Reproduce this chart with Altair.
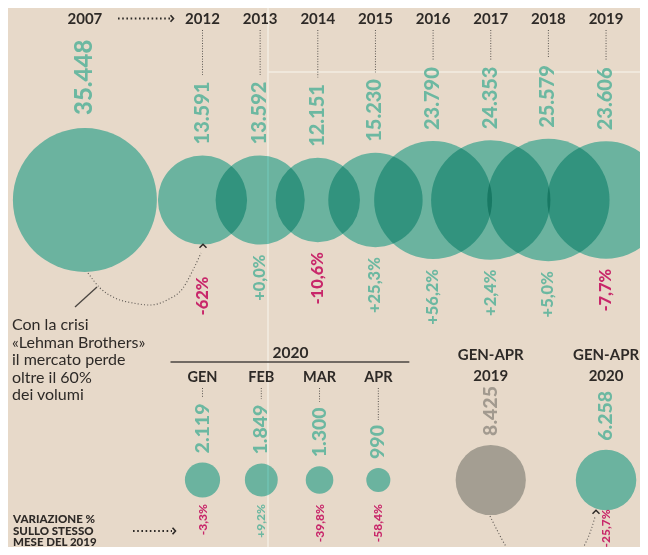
import math
import altair as alt
import pandas as pd

# ---------------- data ----------------
top_years = ["2007", "2012", "2013", "2014", "2015", "2016", "2017", "2018", "2019"]
top_values = [35448, 13591, 13592, 12151, 15230, 23790, 24353, 25579, 23606]
top_changes = ["", "-62%", "+0,0%", "-10,6%", "+25,3%", "+56,2%", "+2,4%", "+5,0%", "-7,7%"]

month_names = ["GEN", "FEB", "MAR", "APR"]
month_values = [2119, 1849, 1300, 990]
month_changes = ["-3,3%", "+9,2%", "-39,8%", "-58,4%"]

cum_names = ["GEN-APR\n2019", "GEN-APR\n2020"]
cum_values = [8425, 6258]
cum_changes = ["", "-25,7%"]

note_text = "Con la crisi\n«Lehman Brothers»\nil mercato perde\noltre il 60%\ndei volumi"
var_text = "VARIAZIONE %\nSULLO STESSO\nMESE DEL 2019"

# ---------------- layout ----------------
W, H = 632, 539
ORIGIN, STEP = 79.2, 57.65
R_MAX, V_MAX = 72.0, max(top_values)
TOP_Y, BOT_Y = 192, 472

BG = "#e7d9c9"
TEAL_FILL = "#76d2ca"
GRAY_FILL = "#b5bab9"
TEAL_TXT = "#6cb8a1"
RED_TXT = "#c8276a"
GRAY_TXT = "#a29a8f"
DARK = "#2e2a27"
DOT = "#5a5550"
FONT = "Lato"

top_slots = [-0.04, 2, 3, 4, 5, 6, 7, 8, 9]
month_slots = [2, 3.02, 4.03, 5.05]
cum_slots = [7, 9]


def xpos(slot):
    return ORIGIN + STEP * slot


def radius(v):
    return R_MAX * math.sqrt(v / V_MAX)


def it_num(v):
    return f"{v:,}".replace(",", ".")


def text_len(s, fs):
    d = sum(c.isdigit() for c in s)
    return fs * (0.58 * d + 0.27 * (len(s) - d))


def tone(s):
    return RED_TXT if s.startswith("-") else TEAL_TXT


xs = alt.Scale(domain=[0, W], range=[0, W])
ys = alt.Scale(domain=[0, H], range=[0, H])


def X(f="x"):
    return alt.X(f"{f}:Q", scale=xs, axis=None)


def Y(f="y"):
    return alt.Y(f"{f}:Q", scale=ys, axis=None)


# bubbles
bub_rows = []
for s, v in zip(top_slots, top_values):
    bub_rows.append({"x": xpos(s), "y": TOP_Y, "v": v, "fill": TEAL_FILL})
for s, v in zip(month_slots, month_values):
    bub_rows.append({"x": xpos(s), "y": BOT_Y, "v": v, "fill": TEAL_FILL})
for i, (s, v) in enumerate(zip(cum_slots, cum_values)):
    bub_rows.append({"x": xpos(s), "y": BOT_Y, "v": v, "fill": GRAY_FILL if i == 0 else TEAL_FILL})
bub = pd.DataFrame(bub_rows)

# value labels + dotted guides
val_rows, guide_rows = [], []
for i, (s, v) in enumerate(zip(top_slots, top_values)):
    fs = 24 if i == 0 else 20
    gap = 13 if i == 0 else 11
    lab = it_num(v)
    yb = TOP_Y - radius(v) - gap
    val_rows.append({"x": xpos(s), "y": yb, "t": lab, "fs": fs, "c": TEAL_TXT})
    if i > 0:
        guide_rows.append({"x": xpos(s), "y": 22, "y2": yb - text_len(lab, fs) - 6})
BFS = 19.5
for s, v in zip(month_slots, month_values):
    lab = it_num(v)
    yb = BOT_Y - radius(v) - 9
    val_rows.append({"x": xpos(s), "y": yb, "t": lab, "fs": BFS, "c": TEAL_TXT})
    guide_rows.append({"x": xpos(s), "y": 380, "y2": yb - text_len(lab, BFS) - 5})
for i, (s, v) in enumerate(zip(cum_slots, cum_values)):
    yb = BOT_Y - radius(v) - 9
    val_rows.append({"x": xpos(s), "y": yb, "t": it_num(v), "fs": BFS,
                     "c": GRAY_TXT if i == 0 else TEAL_TXT})
vals = pd.DataFrame(val_rows)
guides = pd.DataFrame(guide_rows)

# percent labels
pct_rows = []
for i, (s, v, p) in enumerate(zip(top_slots, top_values, top_changes)):
    if p:
        extra = 22 if i == 1 else 0
        pct_rows.append({"x": xpos(s), "y": TOP_Y + radius(v) + 10 + extra, "t": p, "c": tone(p), "fs": 16.5})
for s, p in zip(month_slots, month_changes):
    pct_rows.append({"x": xpos(s), "y": 496, "t": p, "c": tone(p), "fs": 12})
for s, v, p in zip(cum_slots, cum_values, cum_changes):
    if p:
        pct_rows.append({"x": xpos(s), "y": BOT_Y + radius(v) - 1, "t": p, "c": tone(p), "fs": 12})
pcts = pd.DataFrame(pct_rows)

# headers
years_df = pd.DataFrame({"x": [xpos(s) for s in top_slots], "y": 16, "t": top_years})
months_df = pd.DataFrame({"x": [xpos(s) for s in month_slots], "y": 374, "t": month_names})
cum_df = pd.DataFrame({"x": [xpos(s) for s in cum_slots], "y": 352, "t": cum_names})
yr2020 = pd.DataFrame({"x": [(xpos(month_slots[0]) + xpos(month_slots[-1])) / 2], "y": [350], "t": ["2020"]})
underline = pd.DataFrame({"x": [xpos(month_slots[0]) - 32], "x2": [xpos(month_slots[-1]) + 31], "y": [354]})

notes = pd.DataFrame({"x": [4, 5], "y": [322, 515], "t": [note_text, var_text]})

# decorations (annotation geometry)
fold_v = pd.DataFrame({"x": [260], "y": [0], "y2": [H]})
fold_h = pd.DataFrame({"x": [260], "x2": [W], "y": [64]})
arrows_h = pd.DataFrame({"x": [110, 125], "x2": [162, 164], "y": [10.5, 523]})
heads_r = pd.DataFrame({"x": [164, 166], "y": [10.5, 523]})
heads_u = pd.DataFrame({"x": [195, 588], "y": [238, 504]})
arc_top = pd.DataFrame({"x": [80, 92, 107, 125, 142, 159, 175, 185, 193],
                        "y": [265, 280, 290, 295, 297, 292, 280, 262, 245],
                        "o": list(range(9))})
arc_bot = pd.DataFrame({"x": [482, 489, 499, 522, 540, 558, 575, 583, 587],
                        "y": [508, 522, 540, 560, 565, 560, 540, 522, 509],
                        "o": list(range(9))})
leader = pd.DataFrame({"x": [67, 89], "y": [299, 279], "o": [0, 1]})

# ---------------- layers ----------------
fold_layer = alt.Chart(fold_v).mark_rule(color="#f3ece2", strokeWidth=1.5).encode(x=X(), y=Y(), y2="y2:Q")
fold_layer2 = alt.Chart(fold_h).mark_rule(color="#f3ece2", strokeWidth=1.5).encode(x=X(), x2="x2:Q", y=Y())

circles = alt.Chart(bub).mark_circle(opacity=1, blend="multiply").encode(
    x=X(), y=Y(),
    size=alt.Size("v:Q", scale=alt.Scale(type="linear", domain=[0, V_MAX], range=[0, (2 * R_MAX) ** 2], zero=True), legend=None),
    color=alt.Color("fill:N", scale=None),
)

guide_layer = alt.Chart(guides).mark_rule(color=DOT, strokeWidth=1, strokeDash=[1, 1.6]).encode(
    x=X(), y=Y(), y2="y2:Q")

val_layer = alt.Chart(vals).mark_text(angle=270, align="left", baseline="middle", font=FONT, fontWeight=900).encode(
    x=X(), y=Y(), text="t:N", size=alt.Size("fs:Q", scale=None), color=alt.Color("c:N", scale=None))

pct_layer = alt.Chart(pcts).mark_text(angle=270, align="right", baseline="middle", font=FONT, fontWeight=900).encode(
    x=X(), y=Y(), text="t:N", size=alt.Size("fs:Q", scale=None), color=alt.Color("c:N", scale=None))

year_layer = alt.Chart(years_df).mark_text(font=FONT, fontWeight="bold", fontSize=15, color=DARK, baseline="alphabetic").encode(
    x=X(), y=Y(), text="t:N")
month_layer = alt.Chart(months_df).mark_text(font=FONT, fontWeight="bold", fontSize=14.5, color=DARK, baseline="alphabetic").encode(
    x=X(), y=Y(), text="t:N")
cum_layer = alt.Chart(cum_df).mark_text(font=FONT, fontWeight="bold", fontSize=15, color=DARK, baseline="alphabetic",
                                        lineBreak="\n", lineHeight=21).encode(x=X(), y=Y(), text="t:N")
yr_layer = alt.Chart(yr2020).mark_text(font=FONT, fontWeight="bold", fontSize=15.5, color=DARK, baseline="alphabetic").encode(
    x=X(), y=Y(), text="t:N")
under_layer = alt.Chart(underline).mark_rule(color="#4a4540", strokeWidth=1.5).encode(x=X(), x2="x2:Q", y=Y())

note_layer = alt.Chart(notes.iloc[[0]]).mark_text(font=FONT, fontSize=16, color=DARK, align="left", baseline="alphabetic",
                                                  lineBreak="\n", lineHeight=17.5).encode(x=X(), y=Y(), text="t:N")
var_layer = alt.Chart(notes.iloc[[1]]).mark_text(font=FONT, fontSize=11.5, fontWeight=900, color=DARK, align="left",
                                                 baseline="alphabetic", lineBreak="\n", lineHeight=11.7).encode(x=X(), y=Y(), text="t:N")

arrow_layer = alt.Chart(arrows_h).mark_rule(color=DARK, strokeWidth=2, strokeDash=[1.6, 2.6]).encode(x=X(), x2="x2:Q", y=Y())
head_r_layer = alt.Chart(heads_r).mark_point(shape="M-0.4,-0.9L0.4,0L-0.4,0.9", filled=False, size=55, strokeWidth=1.6,
                                             color=DARK, opacity=1).encode(x=X(), y=Y())
head_u_layer = alt.Chart(heads_u).mark_point(shape="M-0.9,0.45L0,-0.45L0.9,0.45", filled=False, size=60, strokeWidth=1.5,
                                             color=DARK, opacity=1).encode(x=X(), y=Y())
arc_top_layer = alt.Chart(arc_top).mark_line(color=DOT, strokeWidth=1.1, strokeDash=[1, 2.2], interpolate="monotone").encode(
    x=X(), y=Y(), order="o:Q")
arc_bot_layer = alt.Chart(arc_bot).mark_line(color=DOT, strokeWidth=1.1, strokeDash=[1, 2.2], interpolate="monotone", clip=True).encode(
    x=X(), y=Y(), order="o:Q")
leader_layer = alt.Chart(leader).mark_line(color="#4a4540", strokeWidth=1.3).encode(x=X(), y=Y(), order="o:Q")

chart = alt.layer(
    fold_layer, fold_layer2, circles, guide_layer, val_layer, pct_layer,
    year_layer, month_layer, cum_layer, yr_layer, under_layer,
    note_layer, var_layer, arrow_layer, head_r_layer, head_u_layer,
    arc_top_layer, arc_bot_layer, leader_layer,
).properties(
    width=W, height=H, padding=0, autosize=alt.AutoSizeParams(type="none"),
).configure(background=BG).configure_view(stroke=None)

chart.save("out.html", embed_options={"renderer": "svg", "actions": False})
